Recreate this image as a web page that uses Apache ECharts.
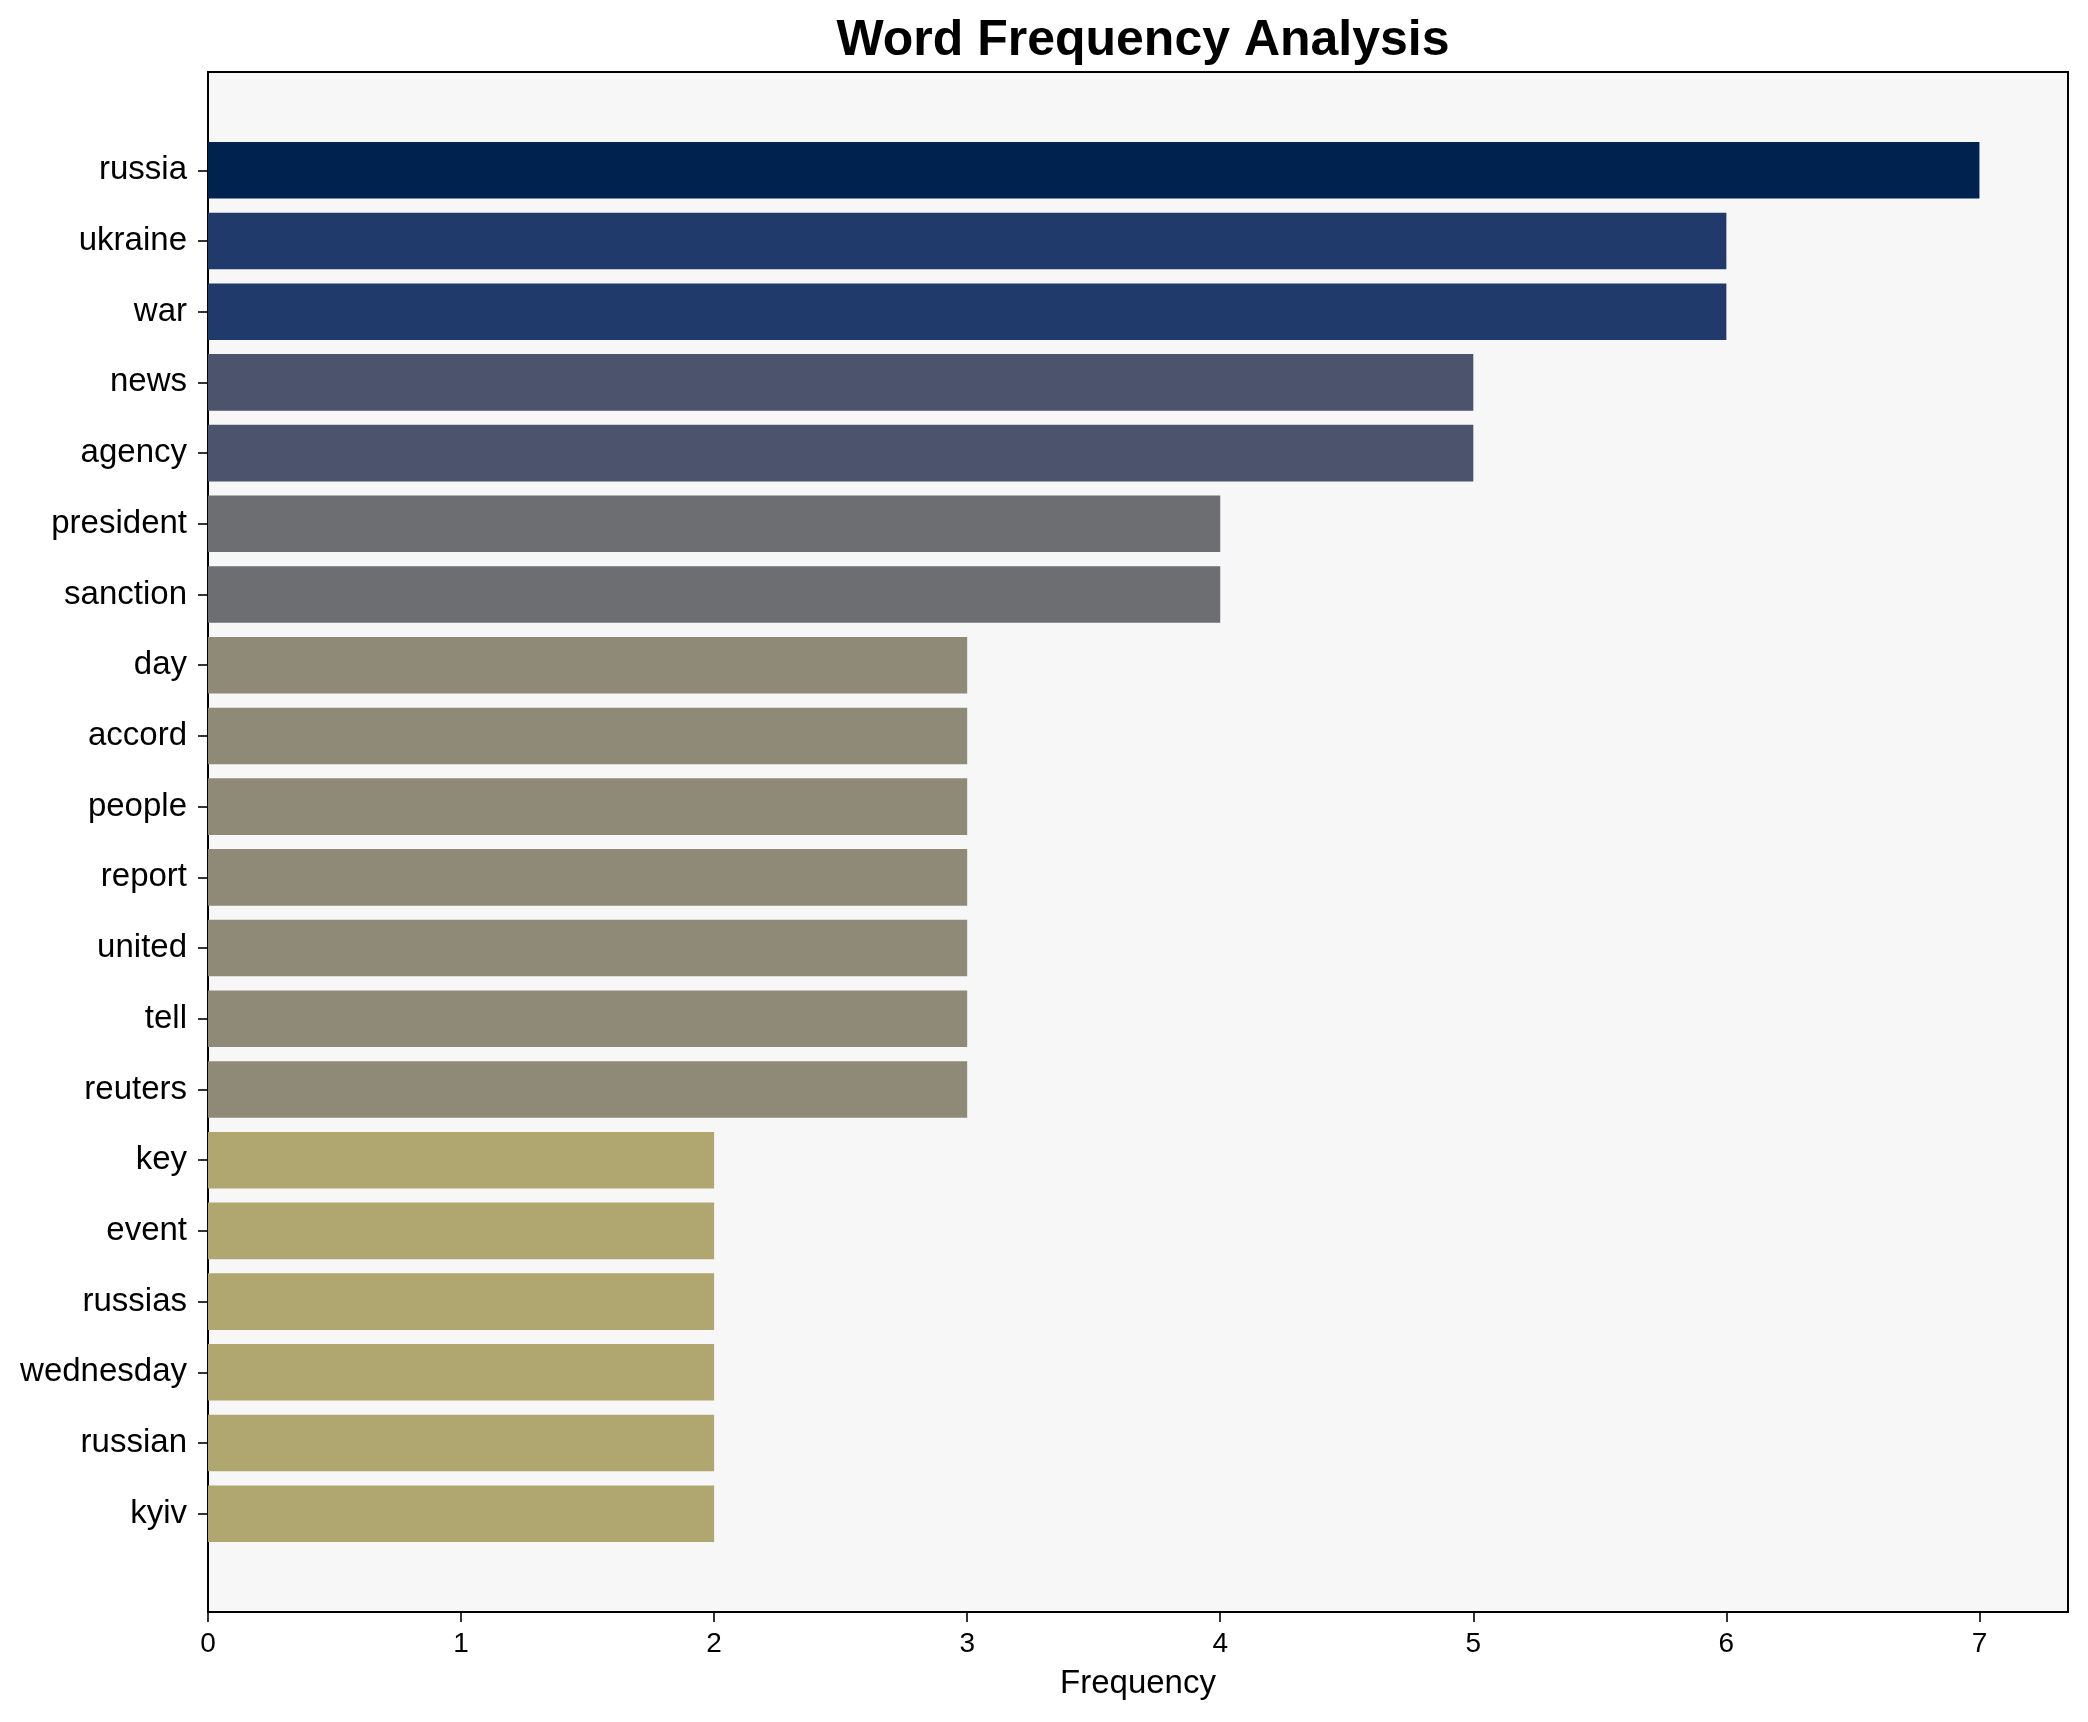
<!DOCTYPE html>
<html>
<head>
<meta charset="utf-8">
<script src="https://cdn.jsdelivr.net/npm/echarts@6/dist/echarts.min.js"></script>
<style>
  html, body { margin: 0; padding: 0; background: #ffffff; }
  #chart { width: 2088px; height: 1722px; }
</style>
</head>
<body>
<div id="chart"></div>
<script>
// ---- Data ----
const categories = ['russia', 'ukraine', 'war', 'news', 'agency', 'president', 'sanction', 'day', 'accord', 'people', 'report', 'united', 'tell', 'reuters', 'key', 'event', 'russias', 'wednesday', 'russian', 'kyiv'];
const frequencies = [7, 6, 6, 5, 5, 4, 4, 3, 3, 3, 3, 3, 3, 3, 2, 2, 2, 2, 2, 2];
const xTicks = [0, 1, 2, 3, 4, 5, 6, 7];
const chartTitle = 'Word Frequency Analysis';
const xAxisTitle = 'Frequency';

// ---- Styles ----
const colorByValue = { 7: '#00224e', 6: '#213a6c', 5: '#4b546c', 4: '#6c6e72', 3: '#8f8a78', 2: '#b0a66f' };
const FONT = '"Liberation Sans", Arial, sans-serif';

// Plot frame geometry (pixels)
const plotLeft = 208, plotTop = 72, plotRight = 2068, plotBottom = 1612;
const W = 2088, H = 1722;
const xMax = 7.35;
// matplotlib-like y margins: bars +-0.4, 5% padding
const yLo = -0.4 - 0.05 * (categories.length - 1 + 0.8);
const yHi = categories.length - 1 + 0.4 + 0.05 * (categories.length - 1 + 0.8);
const pxPerUnit = (plotBottom - plotTop) / (yHi - yLo);
const barGridTop = plotTop + (-0.5 - yLo) * pxPerUnit;
const barGridHeight = categories.length * pxPerUnit;

const chart = echarts.init(document.getElementById('chart'), null, { renderer: 'canvas' });

const option = {
  backgroundColor: '#ffffff',
  animation: false,
  textStyle: { fontFamily: FONT },
  title: {
    text: chartTitle,
    left: (plotLeft + plotRight) / 2,
    textAlign: 'center',
    top: 11,
    textStyle: { fontFamily: FONT, fontSize: 50, fontWeight: 'bold', color: '#000000' }
  },
  grid: [
    {
      left: plotLeft, right: W - plotRight,
      top: barGridTop, height: barGridHeight,
      containLabel: false
    },
    {
      left: plotLeft, right: W - plotRight,
      top: plotTop, bottom: H - plotBottom,
      show: true,
      backgroundColor: '#f7f7f7',
      borderColor: '#000000',
      borderWidth: 2,
      containLabel: false,
      z: -1
    }
  ],
  xAxis: [
    {
      gridIndex: 0, type: 'value', min: 0, max: xMax, show: false
    },
    {
      gridIndex: 1, type: 'value', min: 0, max: xMax, position: 'bottom',
      axisLine: { show: false },
      splitLine: { show: false },
      axisTick: { show: true, length: 10, lineStyle: { color: '#000', width: 1.6 }, customValues: xTicks },
      axisLabel: { show: true, fontSize: 28, color: '#000', margin: 18, fontFamily: FONT, customValues: xTicks },
      name: xAxisTitle,
      nameLocation: 'middle',
      nameGap: 55,
      nameTextStyle: { fontSize: 33, color: '#000', fontFamily: FONT }
    }
  ],
  yAxis: [
    {
      gridIndex: 0, type: 'category', data: categories, inverse: true,
      axisLine: { show: false },
      axisTick: { show: true, alignWithLabel: true, length: 10, lineStyle: { color: '#000', width: 1.6 } },
      axisLabel: { fontSize: 33, color: '#000', margin: 21, fontFamily: FONT, padding: [5, 0, 0, 0] },
      splitLine: { show: false }
    },
    {
      gridIndex: 1, type: 'value', show: false
    }
  ],
  series: [
    {
      type: 'bar',
      xAxisIndex: 0, yAxisIndex: 0,
      data: frequencies,
      barWidth: '80%',
      itemStyle: { color: function (p) { return colorByValue[p.value] || '#888'; } },
      z: 3
    }
  ]
};

chart.setOption(option);
</script>
</body>
</html>
